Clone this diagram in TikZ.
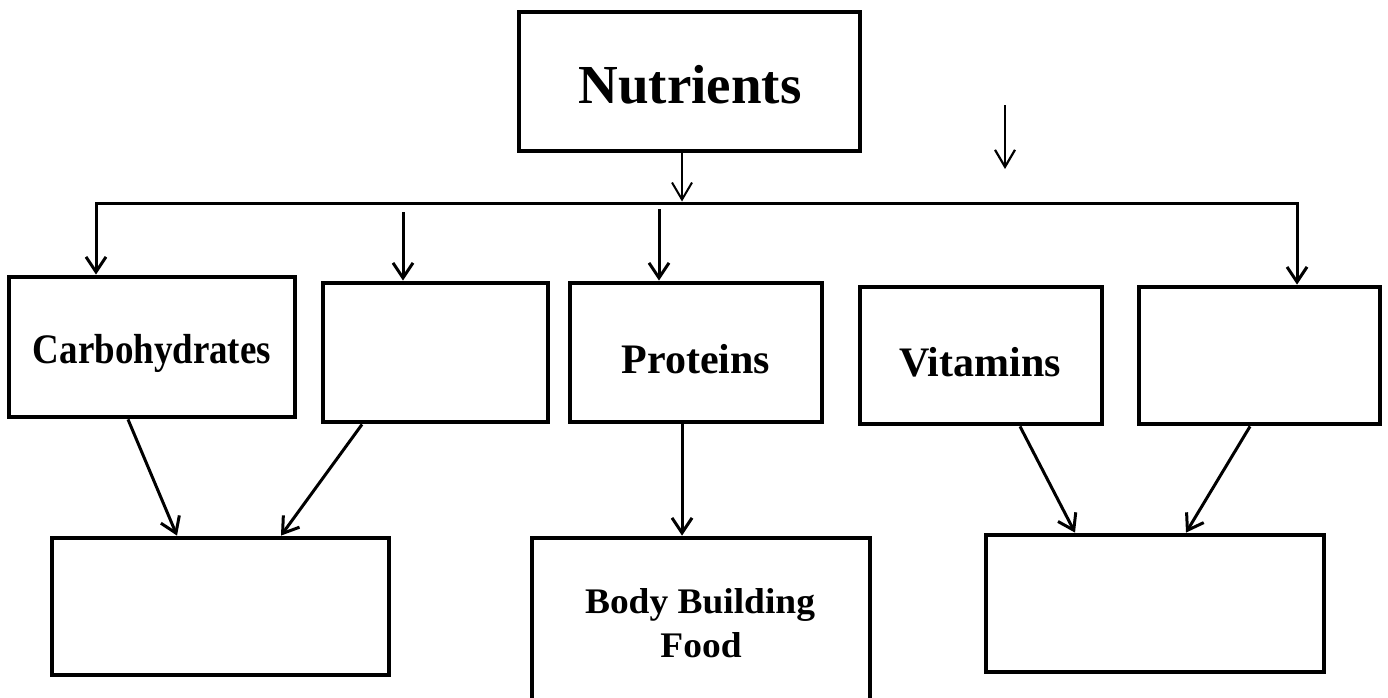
\documentclass[tikz,border=0pt]{standalone}
\usepackage{fontspec}
\setmainfont{Liberation Serif}
\usetikzlibrary{arrows.meta}
\begin{document}
\begin{tikzpicture}[x=1pt,y=-1pt,
  box/.style={draw, line width=4.8pt, inner sep=0pt},
  lbl/.style={anchor=base, inner sep=0pt, font=\bfseries},
  arr/.style={line width=3pt, -{Straight Barb[length=15pt,width=20pt]}},
  busline/.style={line width=3pt, {Straight Barb[length=15pt,width=20pt]}-{Straight Barb[length=15pt,width=20pt]}},
  thinarr/.style={line width=2pt, -{Straight Barb[length=17pt,width=20pt]}}
]
\useasboundingbox (0,0) rectangle (1388,697);
\clip (0,0) rectangle (1388,697);
\fill[white] (0,0) rectangle (1388,697);

% boxes
\node[box, minimum width=341pt, minimum height=139pt] (nut) at (689.5,81.5) {};
\node[box, minimum width=286pt, minimum height=140pt] (carb) at (152,347) {};
\node[box, minimum width=225pt, minimum height=139pt] (b2) at (435.5,352.5) {};
\node[box, minimum width=252pt, minimum height=139pt] (prot) at (696,352.5) {};
\node[box, minimum width=242pt, minimum height=137pt] (vit) at (981,355.5) {};
\node[box, minimum width=241pt, minimum height=137pt] (b5) at (1259.5,355.5) {};
\node[box, minimum width=337pt, minimum height=137pt] (bA) at (220.5,606.5) {};
\node[box, minimum width=338pt, minimum height=202pt] (body) at (701,639) {};
\node[box, minimum width=338pt, minimum height=137pt] (bC) at (1155,603.5) {};

% labels
\node[lbl, font=\bfseries\fontsize{55}{60}\selectfont] (nutt) at (690,103) {Nutrients};
\node[lbl, font=\bfseries\fontsize{42}{48}\selectfont] (carbt) at (152,363) {\scalebox{0.88}[1]{Carbohydrates}};
\node[lbl, font=\bfseries\fontsize{42}{48}\selectfont] (prott) at (696,373) {Proteins};
\node[lbl, font=\bfseries\fontsize{42}{48}\selectfont] (vitt) at (980,376) {Vitamins};
\node[lbl, font=\bfseries\fontsize{36}{40}\selectfont] (bodyt1) at (700,613) {\scalebox{1.04}[1]{Body Building}};
\node[lbl, font=\bfseries\fontsize{36}{40}\selectfont] (bodyt2) at (701,657) {\scalebox{1.04}[1]{Food}};

% bus
\coordinate (busL) at (96,203);
\coordinate (busR) at (1297,203);
\coordinate (busHit) at (682,201.5);
\draw[busline] (carb.north -| busL) -- (busL) -- (busR) -- (b5.north -| busR);
\draw[thinarr] (nut.south -| busHit) -- (busHit);

% loose arrows
\coordinate (f1) at (403,212);
\coordinate (f2) at (659,209);
\coordinate (f3s) at (1005,105);
\coordinate (f3e) at (1005,169);
\draw[arr] (f1) -- (b2.north -| f1);
\draw[arr] (f2) -- (prot.north -| f2);
\draw[line width=2.2pt, -{Straight Barb[length=17pt,width=20pt]}] (f3s) -- (f3e);

% lower arrows
\draw[arr] (carb.south -| 128,0) -- (bA.north -| 177,0);
\draw[arr] (b2.south -| 362,0) -- (bA.north -| 281,0);
\draw[arr] (prot.south -| 682,0) -- (body.north -| 682,0);
\draw[arr] (vit.south -| 1020,0) -- (bC.north -| 1075,0);
\draw[arr] (b5.south -| 1250,0) -- (bC.north -| 1186,0);
\end{tikzpicture}
\end{document}
